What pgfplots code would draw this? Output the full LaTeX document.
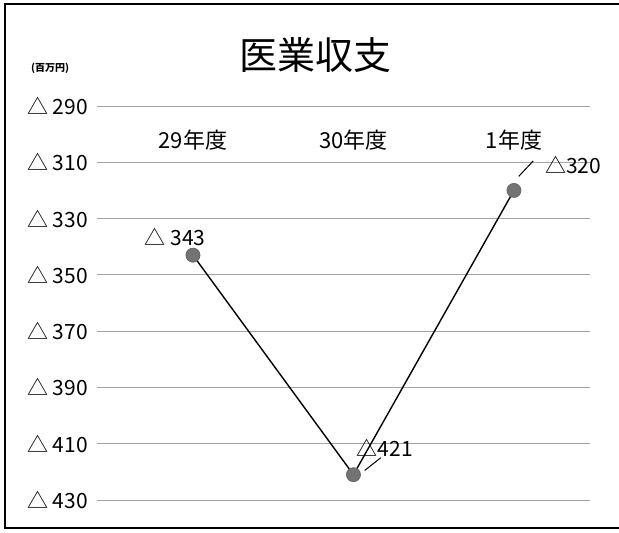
\documentclass[border=0pt]{standalone}
\usepackage{fontspec}
\setmainfont{Noto Sans CJK JP}
\usepackage{pgfplots}
\pgfplotsset{compat=1.18}
\definecolor{gridgray}{RGB}{165,165,165}
\definecolor{markgray}{RGB}{115,115,115}

\begin{document}
\begin{tikzpicture}
  \begin{axis}[
    scale only axis,
    width=246.5pt, height=197pt,
    xmin=-0.598, xmax=2.474,
    ymin=-430, ymax=-290,
    axis line style={draw=none},
    xtick=\empty,
    ytick={-430,-410,-390,-370,-350,-330,-310,-290},
    yticklabels={△ 430,△ 410,△ 390,△ 370,△ 350,△ 330,△ 310,△ 290},
    yticklabel style={font=\fontsize{10.5}{12}\selectfont, anchor=east, xshift=-1pt},
    major tick length=0pt,
    ymajorgrids,
    grid style={gridgray, line width=0.4pt},
    clip=false,
  ]
    % data
    \addplot[black, line width=0.7pt, mark=*,
             mark options={fill=markgray, draw=black!60, line width=0.4pt},
             mark size=3.5pt] coordinates {
      (0,-343) (1,-421) (2,-320)
    };
    % category labels
    \node[font=\fontsize{11}{13}\selectfont] at (axis cs:0,-302) {29年度};
    \node[font=\fontsize{11}{13}\selectfont] at (axis cs:1,-302) {30年度};
    \node[font=\fontsize{11}{13}\selectfont] at (axis cs:2,-302) {1年度};
    % leader lines
    \draw[black, line width=0.5pt] (axis cs:1.07,-419.5) -- (axis cs:1.17,-415);
    \draw[black, line width=0.5pt] (axis cs:2.03,-315) -- (axis cs:2.12,-309.5);
    % data labels
    \node[font=\fontsize{10.5}{12}\selectfont] at (axis cs:-0.11,-336.6) {△ 343};
    \node[font=\fontsize{10.5}{12}\selectfont] at (axis cs:1.196,-411.5) {△421};
    \node[font=\fontsize{10.5}{12}\selectfont, anchor=west, inner sep=1pt] at (axis cs:2.18,-311) {△320};
  \end{axis}
  % title and unit
  \node[font=\fontsize{19}{22}\selectfont] at (109pt,222.5pt) {医業収支};
  \node[font=\fontsize{5}{6}\selectfont\bfseries] at (-23.5pt,216pt) {(百万円)};
  % outer frame
  \draw[black, line width=0.9pt] (261pt,248pt) -- (-46pt,248pt) -- (-46pt,-14pt) -- (261pt,-14pt);
  \pgfresetboundingbox
  \useasboundingbox (-48.5pt,-16.5pt) rectangle (261pt,250pt);
\end{tikzpicture}
\end{document}
